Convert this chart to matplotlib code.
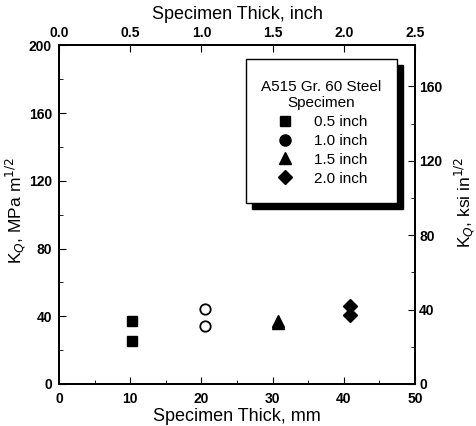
import matplotlib
matplotlib.use("Agg")
import matplotlib.pyplot as plt
from matplotlib.lines import Line2D
from matplotlib.patches import Rectangle

plt.rcParams['font.family'] = ['Liberation Sans', 'DejaVu Sans']

# Data (x: specimen thickness in mm, y: K_Q in MPa m^1/2)
sq_x = [10.2, 10.2]
sq_y = [37.4, 25.6]
ci_x = [20.5, 20.5]
ci_y = [44.3, 34.5]
tr_x = [30.7, 30.7]
tr_y = [37.0, 36.0]
di_x = [40.8, 40.8]
di_y = [46.3, 40.8]

bottom_ticks = [0, 10, 20, 30, 40, 50]
left_ticks = [0, 40, 80, 120, 160, 200]
top_ticks = [0.0, 0.5, 1.0, 1.5, 2.0, 2.5]
right_ticks = [0, 40, 80, 120, 160]
legend_labels = ['0.5 inch', '1.0 inch', '1.5 inch', '2.0 inch']
MPA_PER_KSI = 1.0988

fig = plt.figure(figsize=(4.76, 4.26), dpi=100)
ax = fig.add_axes([0.124, 0.0986, 0.748, 0.795])

ax.plot(sq_x, sq_y, 's', color='black', ms=6.5, ls='none')
ax.plot(ci_x, ci_y, 'o', mfc='white', mec='black', mew=1.3, ms=7.5, ls='none')
ax.plot(tr_x, tr_y, '^', color='black', ms=8.5, ls='none')
ax.plot(di_x, di_y, 'D', color='black', ms=7, ls='none')

ax.set_xlim(0, 50)
ax.set_ylim(0, 200)
ax.set_xticks(bottom_ticks)
ax.set_yticks(left_ticks)
ax.set_xticks(range(5, 50, 10), minor=True)
ax.set_yticks(range(20, 200, 40), minor=True)
ax.tick_params(which='both', direction='in', labelsize=10)
ax.tick_params(which='major', length=5)
ax.tick_params(which='minor', length=3)
ax.tick_params(axis='x', which='major', pad=6)
ax.tick_params(axis='y', which='major', pad=5)
for lab in ax.get_xticklabels() + ax.get_yticklabels():
    lab.set_fontweight('bold')
ax.set_xlabel('Specimen Thick, mm', fontsize=13)
ax.xaxis.set_label_coords(0.5, -0.07)
ax.set_ylabel(r'K$_Q$, MPa m$^{1/2}$', fontsize=12.5)
ax.yaxis.set_label_coords(-0.086, 0.513)

# Top axis (inch)
axt = ax.twiny()
axt.set_xlim(0, 2.5)
axt.set_xticks(top_ticks)
axt.set_xticklabels([f'{t:.1f}' for t in top_ticks], fontweight='bold')
axt.tick_params(direction='in', labelsize=10, length=5, pad=4)
axt.set_xlabel('Specimen Thick, inch', fontsize=13)
axt.xaxis.set_label_coords(0.5, 1.078)

# Right axis (ksi in^1/2)
axr = ax.twinx()
axr.set_ylim(0, 200 / MPA_PER_KSI)
axr.set_yticks(right_ticks)
axr.set_yticks(range(20, 180, 40), minor=True)
axr.set_yticklabels([str(t) for t in right_ticks], fontweight='bold')
axr.tick_params(which='both', direction='in', labelsize=10)
axr.tick_params(which='major', length=5, pad=3)
axr.tick_params(which='minor', length=3)
axr.set_ylabel(r'K$_Q$, ksi in$^{1/2}$', fontsize=12.5)
axr.yaxis.set_label_coords(1.105, 0.537)

for a in (ax, axt, axr):
    for s in a.spines.values():
        s.set_linewidth(1.2)

# Legend box with solid drop shadow
bx0, bx1, by0, by1 = 0.525, 0.949, 0.534, 0.959
sdx, sdy = 0.017, 0.018
axr.add_patch(Rectangle((bx0 + sdx, by0 - sdy), bx1 - bx0, by1 - by0,
                        transform=axr.transAxes, facecolor='black',
                        edgecolor='black', zorder=4, clip_on=False))
axr.add_patch(Rectangle((bx0, by0), bx1 - bx0, by1 - by0,
                        transform=axr.transAxes, facecolor='white',
                        edgecolor='black', lw=1.0, zorder=5, clip_on=False))

handles = [
    Line2D([], [], marker='s', color='black', ls='none', ms=7),
    Line2D([], [], marker='o', color='black', ls='none', ms=8),
    Line2D([], [], marker='^', color='black', ls='none', ms=9),
    Line2D([], [], marker='D', color='black', ls='none', ms=7.5),
]
leg = axr.legend(handles, legend_labels, title='A515 Gr. 60 Steel\nSpecimen',
                 loc='upper center', bbox_to_anchor=((bx0 + bx1) / 2, by1 - 0.025),
                 fontsize=11, title_fontsize=11, frameon=False,
                 handletextpad=1.3, labelspacing=0.32, borderpad=0.3,
                 handlelength=1.2)
leg.get_title().set_multialignment('center')
leg.set_zorder(6)

fig.savefig('out.png', dpi=100)
